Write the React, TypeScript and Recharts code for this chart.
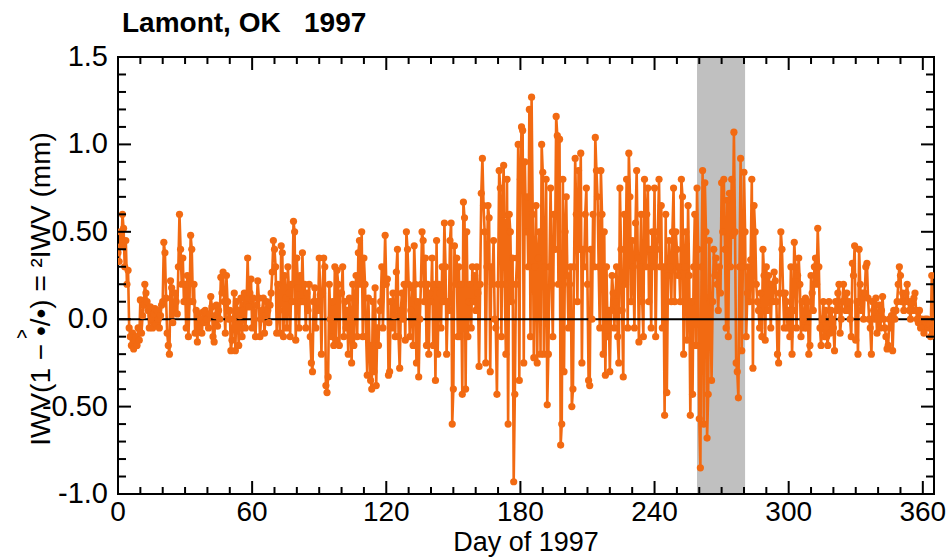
import React from 'react';
import { LineChart, Line, XAxis, YAxis, ReferenceArea, ReferenceLine } from 'recharts';

// sampling: two values per day, starting at day 0
const SAMPLES_PER_DAY = 2;

// IWV difference (mm), one row = 10 days
const IWV_DIFF: number[] = [
  0.38, 0.33, 0.5, 0.42, 0.6, 0.52, 0.3, 0.45, 0.2, 0.28, -0.05, -0.1, -0.15, -0.08, -0.17, -0.12, -0.1, -0.15, -0.05, -0.12,
  0.11, -0.08, 0.02, 0.08, 0.2, 0.15, 0.1, 0.05, -0.05, 0.07, 0.0, -0.05, 0.03, 0.06, -0.03, 0.05, 0.0, -0.05, 0.02, 0.08,
  0.1, 0.44, 0.38, 0.12, -0.08, -0.15, -0.2, 0.22, 0.18, -0.02, 0.05, 0.15, 0.1, 0.03, 0.3, 0.6, 0.4, 0.2, 0.35, 0.1,
  0.2, -0.05, 0.25, -0.1, 0.1, 0.48, 0.4, 0.1, 0.2, -0.08, 0.05, -0.13, 0.03, -0.05, 0.0, -0.08, 0.04, -0.02, 0.05, 0.0,
  0.0, -0.05, 0.03, 0.13, 0.07, -0.1, -0.13, 0.02, 0.08, -0.04, 0.05, 0.0, 0.24, 0.15, 0.27, 0.1, -0.08, 0.25, 0.1, 0.0,
  0.05, -0.18, -0.12, 0.0, 0.15, -0.18, 0.1, 0.05, -0.15, 0.02, 0.12, -0.1, 0.05, 0.15, -0.05, 0.08, 0.35, 0.07, 0.15, 0.23,
  -0.05, 0.12, 0.0, -0.1, 0.08, 0.22, 0.12, -0.1, 0.0, 0.05, 0.12, -0.08, 0.02, 0.1, 0.05, -0.02, 0.08, 0.15, 0.27, 0.45,
  0.4, 0.3, -0.08, 0.2, 0.05, -0.08, 0.42, 0.38, -0.1, 0.25, 0.12, -0.05, 0.3, 0.15, -0.1, 0.2, 0.1, 0.56, 0.5, -0.12,
  0.35, 0.18, -0.05, 0.25, 0.1, 0.38, 0.1, 0.2, -0.05, 0.15, 0.05, 0.2, -0.1, -0.25, -0.3, 0.1, 0.18, -0.05, 0.1, 0.05,
  0.35, 0.14, -0.2, 0.15, 0.35, 0.3, -0.38, -0.42, -0.33, 0.2, 0.0, -0.1, 0.1, -0.15, 0.3, -0.12, 0.28, 0.2, -0.15, 0.15,
  0.15, 0.3, -0.1, 0.1, -0.05, 0.05, -0.2, 0.12, 0.0, -0.25, 0.2, -0.15, 0.1, 0.25, -0.1, 0.38, 0.45, 0.2, 0.5, -0.1,
  0.35, 0.2, -0.1, -0.32, 0.12, -0.15, -0.35, -0.4, 0.1, -0.3, 0.18, -0.38, -0.05, -0.15, 0.05, 0.1, 0.3, -0.05, 0.2, 0.48,
  0.2, 0.23, -0.32, -0.3, 0.1, -0.05, 0.15, 0.02, -0.1, 0.27, 0.4, -0.1, -0.28, 0.05, 0.15, 0.0, 0.2, -0.12, 0.5, 0.4,
  0.2, -0.1, 0.05, 0.18, -0.15, 0.42, 0.2, -0.25, 0.1, -0.33, 0.0, 0.2, 0.5, 0.45, 0.1, 0.35, -0.15, 0.2, -0.2, 0.15,
  0.1, 0.35, -0.15, 0.2, -0.35, 0.45, -0.2, 0.2, 0.15, -0.05, 0.3, 0.1, 0.55, 0.3, -0.2, 0.1, 0.05, 0.45, 0.55, -0.6,
  -0.4, 0.42, 0.2, 0.35, -0.1, 0.3, -0.1, 0.2, -0.43, 0.67, 0.58, -0.4, 0.5, -0.1, 0.1, 0.2, -0.05, 0.3, 0.1, 0.25,
  0.05, 0.3, 0.15, -0.27, 0.2, 0.72, 0.92, 0.65, 0.5, -0.25, 0.3, 0.65, 0.58, -0.3, 0.3, 0.2, 0.45, 0.0, -0.05, -0.43,
  0.2, 0.85, 0.75, -0.1, 0.6, 0.88, 0.2, -0.2, 0.8, -0.6, 0.6, 0.5, 0.1, 0.35, -0.93, -0.43, 0.2, 0.35, 1.0, -0.35,
  0.8, 1.1, 1.08, -0.25, 0.9, 0.5, 0.7, 0.3, 1.2, -0.1, 1.27, 0.6, -0.22, 0.3, 0.65, -0.25, 0.35, 0.5, -0.2, 1.0,
  0.84, -0.2, 0.3, 0.8, -0.49, -0.2, 0.3, 0.75, 0.2, -0.1, 0.6, 0.4, 1.16, 1.05, 0.2, 1.03, -0.72, -0.6, 0.8, -0.3,
  0.5, 0.7, 0.25, -0.05, 0.2, 0.3, -0.5, -0.4, 0.3, 0.92, 0.6, 0.1, 0.85, 0.4, 0.95, -0.25, 0.4, 0.3, 0.6, 0.75,
  0.2, -0.35, -0.38, 0.4, 0.0, 0.6, 0.3, 1.04, 0.85, 0.7, 0.3, -0.05, 0.85, 0.6, -0.2, 0.5, -0.32, 0.3, -0.1, 0.05,
  -0.3, 0.05, 0.25, 0.15, -0.05, 0.1, 0.3, -0.1, -0.25, 0.75, 0.4, 0.05, -0.33, 0.6, 0.2, 0.8, -0.05, 0.95, 0.7, 0.1,
  0.45, 0.3, -0.05, 0.55, 0.85, 0.35, -0.13, 0.3, 0.6, 0.1, -0.1, 0.8, 0.3, 0.6, 0.75, 0.1, 0.4, -0.05, 0.5, 0.3,
  0.75, -0.1, 0.4, 0.5, 0.8, 0.3, 0.65, -0.05, 0.3, -0.55, 0.6, -0.42, 0.25, 0.45, 0.3, 0.1, 0.5, 0.75, 0.1, 0.5,
  0.4, 0.25, 0.3, 0.1, 0.8, 0.7, -0.2, 0.3, 0.5, -0.12, 0.65, 0.25, -0.55, 0.1, -0.43, 0.3, 0.6, -0.15, 0.75, 0.4,
  -0.57, -0.85, 0.3, 0.85, -0.6, 0.78, 0.5, -0.68, -0.43, 0.45, 0.1, -0.35, 0.1, 0.4, 0.25, 0.35, 0.2, 0.05, 0.3, 0.15,
  0.78, 0.5, 0.8, 0.4, -0.05, 0.68, -0.1, 0.72, 0.3, 0.8, 0.48, 1.07, 0.5, -0.25, -0.3, -0.45, 0.3, 0.92, -0.18, 0.3,
  0.84, 0.5, -0.1, 0.15, 0.3, 0.1, 0.34, 0.8, -0.28, 0.65, 0.5, 0.2, 0.1, 0.05, -0.05, 0.15, -0.1, 0.4, 0.25, -0.12,
  0.3, 0.05, 0.25, 0.2, -0.05, 0.2, 0.1, 0.27, 0.22, 0.1, -0.2, -0.25, 0.15, 0.5, 0.4, 0.15, -0.05, 0.15, 0.1, -0.05,
  0.05, -0.1, 0.3, -0.2, 0.05, 0.44, 0.3, -0.05, 0.25, 0.35, 0.2, -0.1, 0.1, 0.0, -0.05, 0.12, -0.05, 0.1, -0.2, -0.15,
  0.25, 0.15, 0.05, 0.3, 0.35, 0.2, 0.52, 0.3, -0.05, -0.15, 0.0, 0.1, -0.1, 0.05, -0.1, -0.15, 0.1, -0.08, 0.05, 0.0,
  -0.05, -0.18, 0.1, 0.05, 0.15, 0.2, -0.08, 0.0, 0.1, 0.2, 0.1, 0.05, 0.15, 0.05, 0.1, 0.0, -0.1, 0.32, 0.25, 0.42,
  -0.12, 0.1, -0.2, 0.4, 0.2, 0.05, 0.15, 0.0, 0.15, 0.3, 0.32, 0.12, 0.0, -0.05, -0.2, 0.1, 0.05, 0.0, 0.12, -0.08,
  0.0, 0.08, -0.05, 0.05, 0.13, 0.0, -0.05, -0.1, -0.17, -0.15, 0.0, -0.05, 0.02, -0.18, 0.05, 0.0, 0.05, 0.1, 0.2, 0.3,
  0.25, 0.1, 0.15, 0.05, 0.1, 0.15, 0.2, 0.1, 0.05, 0.0, 0.1, 0.05, 0.12, 0.15, 0.05, 0.0, -0.02, 0.05, -0.05, 0.0,
  -0.05, -0.08, 0.0, -0.02, 0.0, -0.05, -0.03, -0.1, 0.25, -0.05, -0.08,
];

const X_TICKS = [0, 10, 20, 30, 40, 50, 60, 70, 80, 90, 100, 110, 120, 130, 140, 150, 160, 170, 180,
  190, 200, 210, 220, 230, 240, 250, 260, 270, 280, 290, 300, 310, 320, 330, 340, 350, 360];
const X_LABELED = [0, 60, 120, 180, 240, 300, 360];
const Y_TICKS = [-1.0, -0.9, -0.8, -0.7, -0.6, -0.5, -0.4, -0.3, -0.2, -0.1, 0.0, 0.1, 0.2, 0.3, 0.4,
  0.5, 0.6, 0.7, 0.8, 0.9, 1.0, 1.1, 1.2, 1.3, 1.4, 1.5];
const Y_LABELS: Record<string, string> = { '1.5': '1.5', '1': '1.0', '0.5': '0.50', '0': '0.0', '-0.5': '-0.50', '-1': '-1.0' };
const SHADED_DAYS = [259, 280.5];

const ORANGE = '#f26a12';
const FONT = '"Liberation Sans", Arial, Helvetica, sans-serif';

const W = 948;
const H = 558;
const PLOT_LEFT = 118;
const PLOT_TOP = 57;
const PLOT_RIGHT = 934;
const PLOT_BOTTOM = 494;

const data = IWV_DIFF.map((v, i) => ({ day: i / SAMPLES_PER_DAY, v }));

const XTick = (props: any) => {
  const { x, y, payload } = props;
  const major = X_LABELED.includes(payload.value);
  const len = major ? 13 : 7;
  return (
    <g>
      <line x1={x} x2={x} y1={y} y2={y - len} stroke="#000" strokeWidth={2} />
      <line x1={x} x2={x} y1={PLOT_TOP} y2={PLOT_TOP + len} stroke="#000" strokeWidth={2} />
      {major && (
        <text x={x} y={y + 27} textAnchor="middle" fontFamily={FONT} fontSize={28} fill="#000">
          {payload.value}
        </text>
      )}
    </g>
  );
};

const YTick = (props: any) => {
  const { x, y, payload } = props;
  const key = String(Math.round(payload.value * 10) / 10);
  const label = Y_LABELS[key];
  const len = label ? 13 : 8;
  return (
    <g>
      <line x1={x} x2={x + len} y1={y} y2={y} stroke="#000" strokeWidth={2} />
      <line x1={PLOT_RIGHT} x2={PLOT_RIGHT - len} y1={y} y2={y} stroke="#000" strokeWidth={2} />
      {label && (
        <text x={x - 10} y={y + 9} textAnchor="end" fontFamily={FONT} fontSize={29} fill="#000">
          {label}
        </text>
      )}
    </g>
  );
};

export default function App() {
  return (
    <div style={{ position: 'absolute', left: 0, top: 0, width: W, height: H, background: '#fff' }}>
      <LineChart
        width={W}
        height={H}
        data={data}
        margin={{ top: PLOT_TOP, right: W - PLOT_RIGHT, bottom: 0, left: 0 }}
      >
        <ReferenceArea x1={SHADED_DAYS[0]} x2={SHADED_DAYS[1]} y1={-1} y2={1.5} fill="#c0c0c0" fillOpacity={1} stroke="none" />
        <XAxis
          dataKey="day"
          type="number"
          domain={[0, 365]}
          ticks={X_TICKS}
          interval={0}
          height={H - PLOT_BOTTOM}
          tickSize={0}
          tickMargin={0}
          tickLine={false}
          axisLine={{ stroke: '#000', strokeWidth: 2 }}
          tick={<XTick />}
          allowDataOverflow
        />
        <YAxis
          type="number"
          domain={[-1, 1.5]}
          ticks={Y_TICKS}
          interval={0}
          width={PLOT_LEFT}
          tickSize={0}
          tickMargin={0}
          tickLine={false}
          axisLine={{ stroke: '#000', strokeWidth: 2 }}
          tick={<YTick />}
          allowDataOverflow
        />
        <Line
          type="linear"
          dataKey="v"
          stroke={ORANGE}
          strokeWidth={2.6}
          dot={{ r: 3.6, fill: ORANGE, stroke: ORANGE, strokeWidth: 0 }}
          isAnimationActive={false}
        />
        <ReferenceLine y={0} stroke="#000" strokeWidth={2} />
        <ReferenceArea x1={0} x2={365} y1={-1} y2={1.5} fill="none" stroke="#000" strokeWidth={2} />
      </LineChart>
      <svg width={W} height={H} style={{ position: 'absolute', left: 0, top: 0, pointerEvents: 'none' }}>
        <text x={122} y={32} fontFamily={FONT} fontSize={28} fontWeight="bold" style={{ whiteSpace: 'pre' }}>
          {'Lamont, OK   1997'}
        </text>
        <text x={(PLOT_LEFT + PLOT_RIGHT) / 2} y={551} textAnchor="middle" fontFamily={FONT} fontSize={27}>
          Day of 1997
        </text>
        <text
          x={0}
          y={0}
          transform={`translate(50, 289) rotate(-90)`}
          textAnchor="middle"
          fontFamily={FONT}
          fontSize={28}
        >
          {'IWV(1 − •/•) = ²IWV (mm)'}
        </text>
        <text x={22} y={345} textAnchor="middle" fontFamily={FONT} fontSize={22}>
          ^
        </text>
      </svg>
    </div>
  );
}
